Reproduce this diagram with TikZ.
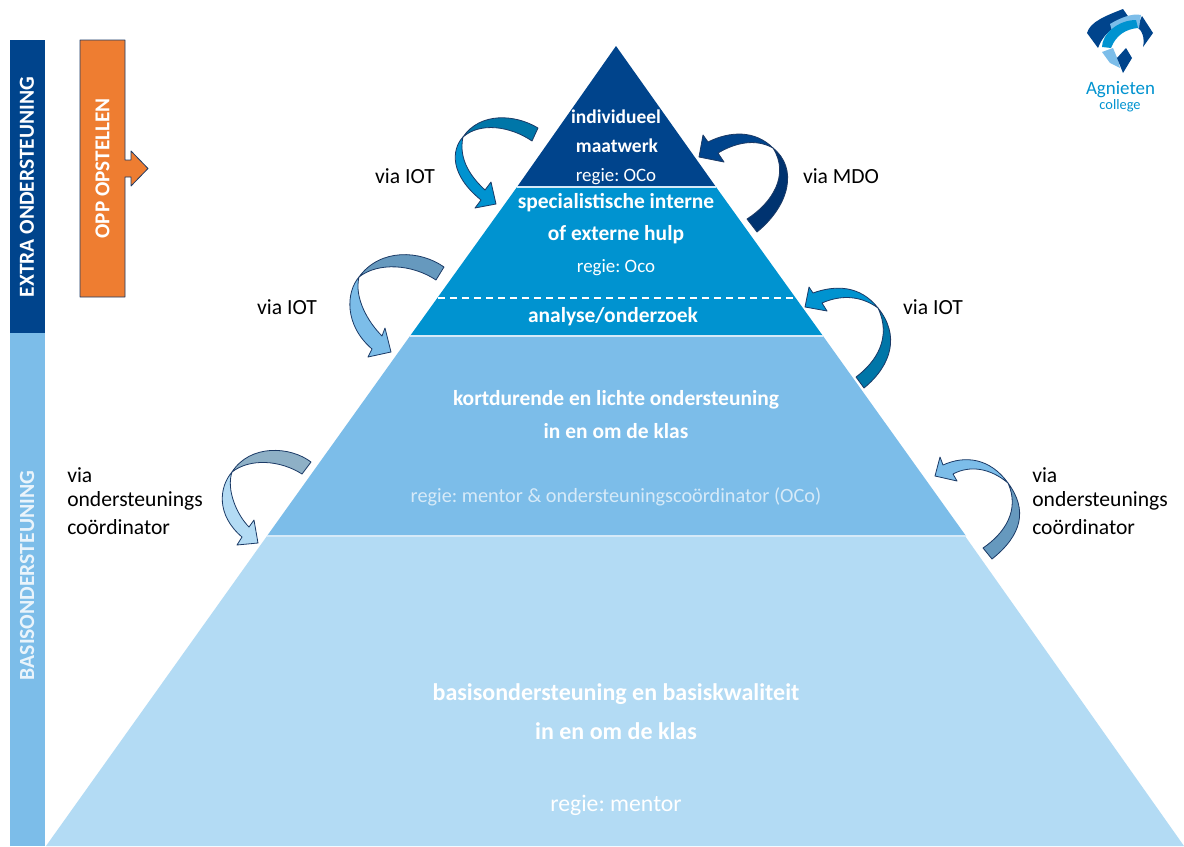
\documentclass[tikz,border=0pt]{standalone}
\usepackage{fontspec}
\setmainfont{Carlito}
\frenchspacing
\definecolor{cDark}{HTML}{00448C}
\definecolor{cMid}{HTML}{0093D0}
\definecolor{cLight}{HTML}{7CBDE9}
\definecolor{cPale}{HTML}{B3DBF4}
\definecolor{cOrange}{HTML}{EE7D31}
\definecolor{cEdge}{HTML}{1B3A66}
\definecolor{cSep}{HTML}{D6EAF8}
\definecolor{cSoft}{HTML}{EAF4FB}
\definecolor{bandA}{HTML}{0076A8}
\definecolor{bandB}{HTML}{6699BE}
\definecolor{bandC}{HTML}{8EB0C6}
\definecolor{bandD}{HTML}{003370}
\newcommand{\fsz}[1]{\fontsize{#1pt}{#1pt}\selectfont}
\tikzset{
  edge/.style={draw=cEdge,line width=0.6pt,line join=round},
  lab/.style={font=\fsz{16.2},text=black,inner sep=0pt},
  sidelab/.style={lab,anchor=west},
  head/.style={font=\fsz{16.1}\bfseries,text=white,inner sep=0pt},
  sub/.style={font=\fsz{14.2},text=white,inner sep=0pt},
  sep/.style={draw=cSep,line width=1.2pt},
}
\begin{document}
\begin{tikzpicture}[x=0.75pt,y=-0.75pt]
\useasboundingbox (0,0) rectangle (1184,846);
\fill[white] (0,0) rectangle (1184,846);
% pyramid
\fill[cPale] (267,536) -- (965,536) -- (1184,846) -- (46,846) -- cycle;
\fill[cLight] (410,336) -- (823,336) -- (966,536) -- (267,536) -- cycle;
\fill[cMid] (517,187) -- (716,187) -- (823,336) -- (410,336) -- cycle;
\fill[cDark] (616,46) -- (716,187) -- (517,187) -- cycle;
\draw[sep] (517,187) -- (716,187);
\draw[sep] (410,336) -- (823,336);
\draw[sep] (267,536) -- (966,536);
\draw[white,line width=1pt,dash pattern=on 5.5pt off 3.5pt] (438,298) -- (794,298);
% side bars
\fill[cDark] (10,40) rectangle (45,333);
\fill[cLight] (10,333) rectangle (45,846);
\node[rotate=90,font=\fsz{16.1}\bfseries,text=white,inner sep=0pt] (extra) at (27,187) {EXTRA ONDERSTEUNING};
\node[rotate=90,font=\fsz{16.2}\bfseries,text=cSoft,inner sep=0pt] (basis) at (27,575.5) {BASISONDERSTEUNING};
% OPP arrow
\filldraw[fill=cOrange,edge] (80,40) -- (125,40) -- (125,160) -- (131,160) -- (131,151) -- (148,168.5) -- (131,186) -- (131,177) -- (125,177) -- (125,297) -- (80,297) -- cycle;
\node[rotate=90,font=\fsz{15.9}\bfseries,text=white,inner sep=0pt] (opp) at (102.5,168.5) {OPP OPSTELLEN};
% curved arrows, left
\filldraw[fill=cMid,edge] (463,137) .. controls (451,150) and (450,175) .. (481,200) -- (475,208) -- (496,204) -- (491,182) -- (485,190) .. controls (472,178) and (458,160) .. (463,137) -- cycle;
\filldraw[fill=bandA,edge] (538,128) .. controls (515,114) and (480,112) .. (463,137) .. controls (480,122) and (510,126) .. (532,141) -- cycle;
\filldraw[fill=cLight,edge] (359,277) .. controls (346,292) and (344,325) .. (372,349) -- (368,357) -- (391,352) -- (385,328) -- (382,336) .. controls (368,322) and (354,298) .. (359,277) -- cycle;
\filldraw[fill=bandB,edge] (444,267) .. controls (420,250) and (380,248) .. (359,277) .. controls (378,262) and (412,264) .. (436,280) -- cycle;
\filldraw[fill=cPale,edge] (232,472) .. controls (219,487) and (216,515) .. (242,537) -- (237,545) -- (258,543) -- (254,520) -- (249,527) .. controls (237,515) and (226,490) .. (232,472) -- cycle;
\filldraw[fill=bandC,edge] (311,462) .. controls (290,446) and (250,444) .. (232,472) .. controls (250,458) and (280,460) .. (302,474) -- cycle;
% curved arrows, right
\filldraw[fill=cDark,edge] (699,157) -- (703,135) -- (708,142) .. controls (730,131) and (755,130) .. (773,148) .. controls (755,138) and (735,143) .. (718,153) -- (724,162) -- cycle;
\filldraw[fill=bandD,edge] (773,148) .. controls (798,168) and (790,205) .. (757,232) -- (747,219) .. controls (772,203) and (790,175) .. (773,148) -- cycle;
\filldraw[fill=cMid,edge] (805,307) -- (809,287) -- (813,293) .. controls (835,285) and (860,285) .. (878,308) .. controls (860,295) and (840,295) .. (822,303) -- (827,311) -- cycle;
\filldraw[fill=bandA,edge] (878,308) .. controls (900,335) and (892,365) .. (864,388) -- (856,377) .. controls (876,362) and (892,338) .. (878,308) -- cycle;
\filldraw[fill=cLight,edge] (935,476) -- (940,457) -- (943,465) .. controls (965,455) and (990,458) .. (1008,483) .. controls (990,468) and (970,465) .. (953,474) -- (957,481) -- cycle;
\filldraw[fill=bandB,edge] (1008,483) .. controls (1028,510) and (1022,535) .. (992,559) -- (983,548) .. controls (1005,533) and (1020,510) .. (1008,483) -- cycle;
% pyramid labels
\node[head,font=\fsz{14.6}\bfseries] (t1) at (616,117) {individueel};
\node[head,font=\fsz{14.6}\bfseries] (t2) at (617,146) {maatwerk};
\node[sub] (t3) at (616,176.5) {regie: OCo};
\node[head] (t4) at (616,202.5) {specialistische interne};
\node[head] (t5) at (616,235) {of externe hulp};
\node[sub] (t6) at (616,267.5) {regie: Oco};
\node[head] (t7) at (613,317) {analyse/onderzoek};
\node[head] (t8) at (616,399.5) {kortdurende en lichte ondersteuning};
\node[head] (t9) at (616,431) {in en om de klas};
\node[sub,font=\fsz{15.2},text=cSep] (t10) at (616,496.5) {regie: mentor \& ondersteuningscoördinator (OCo)};
\node[head,font=\fsz{18}\bfseries] (t11) at (616,694.5) {basisondersteuning en basiskwaliteit};
\node[head,font=\fsz{18}\bfseries] (t12) at (616,731) {in en om de klas};
\node[sub,font=\fsz{17.8}] (t13) at (616,805) {regie: mentor};
% side labels
\node[lab] (v1) at (405,176.5) {via IOT};
\node[lab] (v2) at (841,176.5) {via MDO};
\node[lab] (v3) at (287,307.5) {via IOT};
\node[lab] (v4) at (933,307.5) {via IOT};
\node[sidelab] (v5a) at (67,475) {via};
\node[sidelab] (v5b) at (67,501) {ondersteunings};
\node[sidelab] (v5c) at (67,527) {coördinator};
\node[sidelab] (v6a) at (1032,475) {via};
\node[sidelab] (v6b) at (1032,501) {ondersteunings};
\node[sidelab] (v6c) at (1032,527) {coördinator};
% logo
\fill[cDark] (1123,9) -- (1132,22) .. controls (1118,24) and (1105,30) .. (1098,48) -- (1087,33) .. controls (1090,22) and (1105,16) .. (1123,9) -- cycle;
\fill[cDark] (1142,16) -- (1153,33) -- (1143,47) .. controls (1145,38) and (1142,30) .. (1137,27) -- cycle;
\fill[cLight] (1110,24) .. controls (1120,18) and (1132,13) .. (1141,15) -- (1139,28) .. controls (1130,26) and (1122,26) .. (1112,31) -- cycle;
\fill[cMid] (1102,47) .. controls (1102,34) and (1118,20) .. (1136,20) -- (1138,28) .. controls (1126,29) and (1116,35) .. (1111,48) -- cycle;
\fill[cLight] (1102,52) -- (1113,48) -- (1118,60) -- (1120,68) -- (1110,63) -- cycle;
\fill[cDark] (1126,48) -- (1132,58) -- (1123,73) -- (1117,58) -- cycle;
\node[font=\fsz{14.2},text=cMid,inner sep=0pt] (logo1) at (1120.5,89.5) {Agnieten};
\node[font=\fsz{10.8},text=cMid,inner sep=0pt] (logo2) at (1120,106) {college};
\end{tikzpicture}
\end{document}
